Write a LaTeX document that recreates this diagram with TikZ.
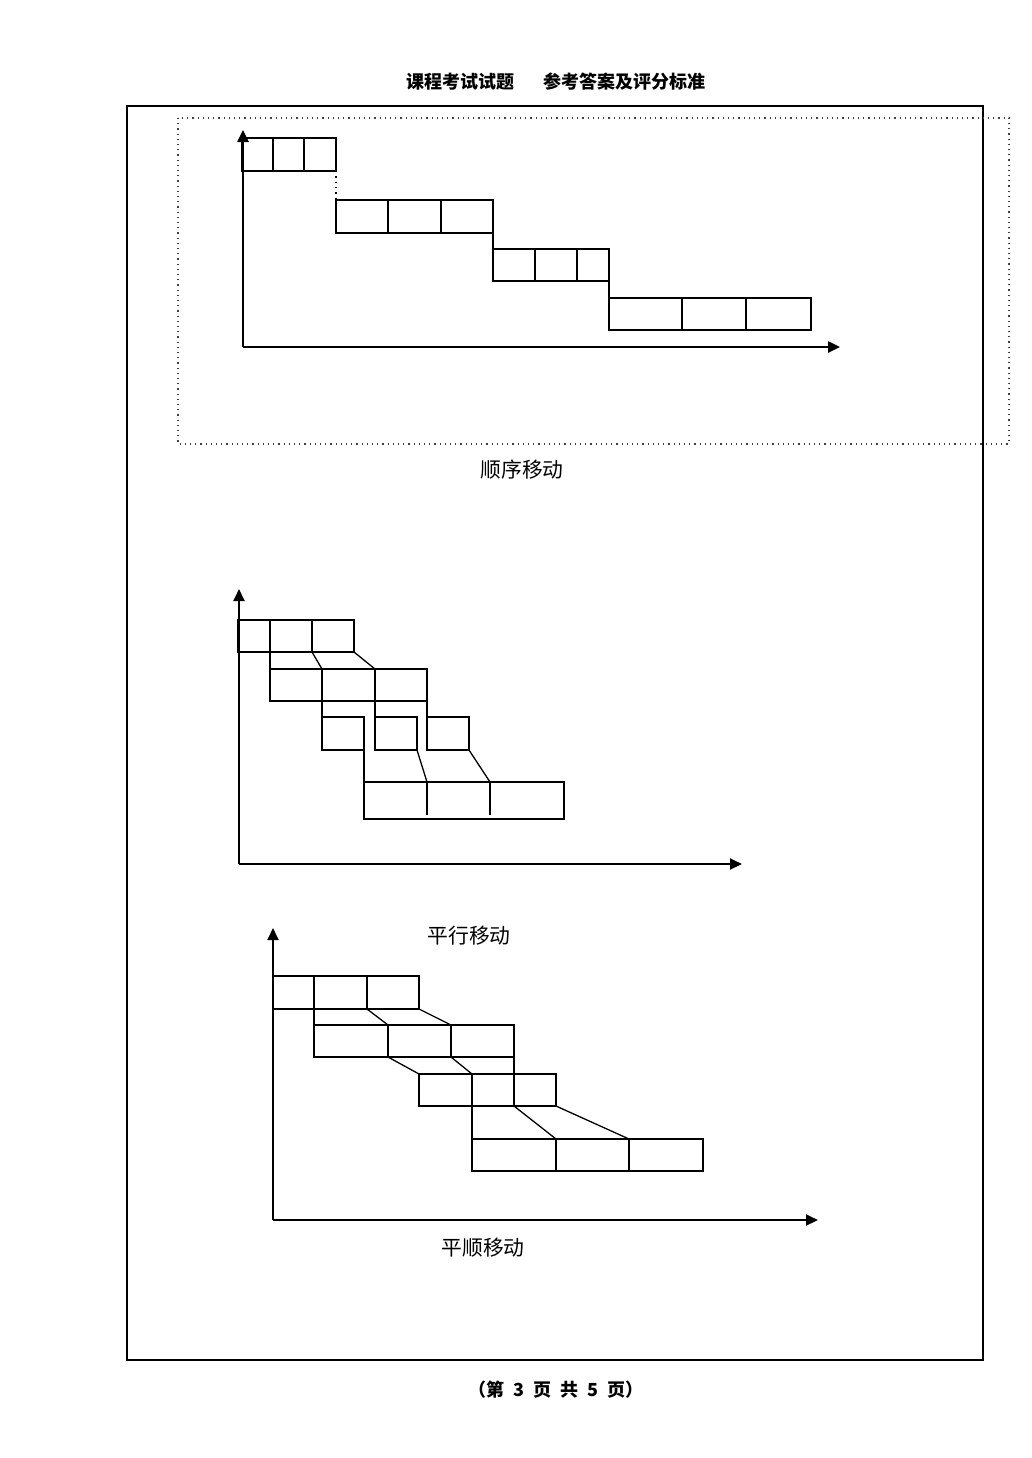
\documentclass[tikz,border=0pt]{standalone}
\usepackage{fontspec}
\newfontfamily\cjk{Noto Sans CJK SC}
\usepackage{tikz}
\usetikzlibrary{arrows.meta}
\pgfdeclarelayer{edgelayer}
\pgfdeclarelayer{nodelayer}
\pgfsetlayers{edgelayer,nodelayer,main}
\tikzstyle{none}=[inner sep=0pt]
\tikzstyle{heading}=[inner sep=0pt,font=\cjk\bfseries\fontsize{9}{11}\selectfont]
\tikzstyle{movename}=[inner sep=0pt,font=\cjk\fontsize{10.4}{12}\selectfont]
\tikzstyle{frame}=[-,draw=black,line width=1pt]
\tikzstyle{dotframe}=[-,draw=black!75,dotted,line width=0.6pt]
\tikzstyle{simple}=[-,draw=black,line width=0.65pt]
\tikzstyle{axis}=[-{Triangle[length=6pt,width=5.5pt]},draw=black,line width=1pt]

\begin{document}
\begin{tikzpicture}[x=0.5pt,y=-0.5pt]
	\useasboundingbox (0,0) rectangle (1032,1458);
	\begin{pgfonlayer}{nodelayer}
		\node [style=heading] (0) at (556, 82) {课程考试试题\hspace{14.5pt}参考答案及评分标准};
		\node [style=heading] (1) at (556, 1390) {（第\hspace{0.5em}3\hspace{0.5em}页\hspace{0.5em}共\hspace{0.5em}5\hspace{0.5em}页）};
		\node [style=none] (2) at (127, 106) {};
		\node [style=none] (3) at (983, 1360) {};
		\node [style=none] (4) at (178, 118) {};
		\node [style=none] (5) at (1009, 444) {};
		\node [style=none] (6) at (243, 347) {};
		\node [style=none] (7) at (243, 130) {};
		\node [style=none] (8) at (840, 347) {};
		\node [style=none] (9) at (242, 138) {};
		\node [style=none] (10) at (336, 171) {};
		\node [style=none] (11) at (273, 138) {};
		\node [style=none] (12) at (273, 171) {};
		\node [style=none] (13) at (304, 138) {};
		\node [style=none] (14) at (304, 171) {};
		\node [style=none] (15) at (336, 200) {};
		\node [style=none] (16) at (493, 233) {};
		\node [style=none] (17) at (388, 200) {};
		\node [style=none] (18) at (388, 233) {};
		\node [style=none] (19) at (441, 200) {};
		\node [style=none] (20) at (441, 233) {};
		\node [style=none] (21) at (493, 249) {};
		\node [style=none] (22) at (609, 281) {};
		\node [style=none] (23) at (535, 249) {};
		\node [style=none] (24) at (535, 281) {};
		\node [style=none] (25) at (577, 249) {};
		\node [style=none] (26) at (577, 281) {};
		\node [style=none] (27) at (609, 298) {};
		\node [style=none] (28) at (811, 330) {};
		\node [style=none] (29) at (682, 298) {};
		\node [style=none] (30) at (682, 330) {};
		\node [style=none] (31) at (746, 298) {};
		\node [style=none] (32) at (746, 330) {};
		\node [style=movename] (33) at (522, 470) {顺序移动};
		\node [style=none] (34) at (239, 864) {};
		\node [style=none] (35) at (239, 589) {};
		\node [style=none] (36) at (742, 864) {};
		\node [style=none] (37) at (238, 620) {};
		\node [style=none] (38) at (354, 652) {};
		\node [style=none] (39) at (270, 620) {};
		\node [style=none] (40) at (270, 652) {};
		\node [style=none] (41) at (312, 620) {};
		\node [style=none] (42) at (312, 652) {};
		\node [style=none] (43) at (270, 669) {};
		\node [style=none] (44) at (427, 701) {};
		\node [style=none] (45) at (322, 669) {};
		\node [style=none] (46) at (322, 701) {};
		\node [style=none] (47) at (375, 669) {};
		\node [style=none] (48) at (375, 701) {};
		\node [style=none] (49) at (322, 717) {};
		\node [style=none] (50) at (364, 750) {};
		\node [style=none] (51) at (375, 717) {};
		\node [style=none] (52) at (417, 750) {};
		\node [style=none] (53) at (427, 717) {};
		\node [style=none] (54) at (469, 750) {};
		\node [style=none] (55) at (364, 782) {};
		\node [style=none] (56) at (564, 819) {};
		\node [style=none] (57) at (427, 782) {};
		\node [style=none] (58) at (427, 815) {};
		\node [style=none] (59) at (490, 782) {};
		\node [style=none] (60) at (490, 815) {};
		\node [style=movename] (61) at (469, 936) {平行移动};
		\node [style=none] (62) at (273, 1220) {};
		\node [style=none] (63) at (273, 928) {};
		\node [style=none] (64) at (818, 1220) {};
		\node [style=none] (65) at (273, 976) {};
		\node [style=none] (66) at (419, 1009) {};
		\node [style=none] (67) at (314, 976) {};
		\node [style=none] (68) at (314, 1009) {};
		\node [style=none] (69) at (367, 976) {};
		\node [style=none] (70) at (367, 1009) {};
		\node [style=none] (71) at (314, 1025) {};
		\node [style=none] (72) at (514, 1057) {};
		\node [style=none] (73) at (388, 1025) {};
		\node [style=none] (74) at (388, 1057) {};
		\node [style=none] (75) at (451, 1025) {};
		\node [style=none] (76) at (451, 1057) {};
		\node [style=none] (77) at (419, 1074) {};
		\node [style=none] (78) at (556, 1106) {};
		\node [style=none] (79) at (472, 1074) {};
		\node [style=none] (80) at (472, 1106) {};
		\node [style=none] (81) at (514, 1074) {};
		\node [style=none] (82) at (514, 1106) {};
		\node [style=none] (83) at (472, 1139) {};
		\node [style=none] (84) at (703, 1171) {};
		\node [style=none] (85) at (556, 1139) {};
		\node [style=none] (86) at (556, 1171) {};
		\node [style=none] (87) at (629, 1139) {};
		\node [style=none] (88) at (629, 1171) {};
		\node [style=movename] (89) at (483, 1248) {平顺移动};
	\end{pgfonlayer}
	\begin{pgfonlayer}{edgelayer}
		\draw [style=frame] (2.center) rectangle (3.center);
		\draw [style=dotframe] (4.center) rectangle (5.center);
		% 顺序移动
		\draw [style=axis, line width=1.25pt] (6.center) to (7.center);
		\draw [style=axis, line width=1.25pt] (6.center) to (8.center);
		\draw [style=simple] (9.center) rectangle (10.center);
		\draw [style=simple] (11.center) to (12.center);
		\draw [style=simple] (13.center) to (14.center);
		\draw [style=simple, dotted] (10.center) to (15.center);
		\draw [style=simple] (15.center) rectangle (16.center);
		\draw [style=simple] (17.center) to (18.center);
		\draw [style=simple] (19.center) to (20.center);
		\draw [style=simple] (16.center) to (21.center);
		\draw [style=simple] (21.center) rectangle (22.center);
		\draw [style=simple] (23.center) to (24.center);
		\draw [style=simple] (25.center) to (26.center);
		\draw [style=simple] (22.center) to (27.center);
		\draw [style=simple] (27.center) rectangle (28.center);
		\draw [style=simple] (29.center) to (30.center);
		\draw [style=simple] (31.center) to (32.center);
		% 平行移动
		\draw [style=axis] (34.center) to (35.center);
		\draw [style=axis] (34.center) to (36.center);
		\draw [style=simple] (37.center) rectangle (38.center);
		\draw [style=simple] (39.center) to (40.center);
		\draw [style=simple] (41.center) to (42.center);
		\draw [style=simple] (40.center) to (43.center);
		\draw [style=simple] (42.center) to (45.center);
		\draw [style=simple] (38.center) to (47.center);
		\draw [style=simple] (43.center) rectangle (44.center);
		\draw [style=simple] (45.center) to (46.center);
		\draw [style=simple] (47.center) to (48.center);
		\draw [style=simple] (46.center) to (49.center);
		\draw [style=simple] (48.center) to (51.center);
		\draw [style=simple] (44.center) to (53.center);
		\draw [style=simple] (49.center) rectangle (50.center);
		\draw [style=simple] (51.center) rectangle (52.center);
		\draw [style=simple] (53.center) rectangle (54.center);
		\draw [style=simple] (50.center) to (55.center);
		\draw [style=simple] (52.center) to (57.center);
		\draw [style=simple] (54.center) to (59.center);
		\draw [style=simple] (55.center) rectangle (56.center);
		\draw [style=simple] (57.center) to (58.center);
		\draw [style=simple] (59.center) to (60.center);
		% 平顺移动
		\draw [style=axis] (62.center) to (63.center);
		\draw [style=axis] (62.center) to (64.center);
		\draw [style=simple] (65.center) rectangle (66.center);
		\draw [style=simple] (67.center) to (68.center);
		\draw [style=simple] (69.center) to (70.center);
		\draw [style=simple] (68.center) to (71.center);
		\draw [style=simple] (70.center) to (73.center);
		\draw [style=simple] (66.center) to (75.center);
		\draw [style=simple] (71.center) rectangle (72.center);
		\draw [style=simple] (73.center) to (74.center);
		\draw [style=simple] (75.center) to (76.center);
		\draw [style=simple] (74.center) to (77.center);
		\draw [style=simple] (76.center) to (79.center);
		\draw [style=simple] (72.center) to (81.center);
		\draw [style=simple] (77.center) rectangle (78.center);
		\draw [style=simple] (79.center) to (80.center);
		\draw [style=simple] (81.center) to (82.center);
		\draw [style=simple] (80.center) to (83.center);
		\draw [style=simple] (82.center) to (85.center);
		\draw [style=simple] (78.center) to (87.center);
		\draw [style=simple] (83.center) rectangle (84.center);
		\draw [style=simple] (85.center) to (86.center);
		\draw [style=simple] (87.center) to (88.center);
	\end{pgfonlayer}
\end{tikzpicture}
\end{document}
